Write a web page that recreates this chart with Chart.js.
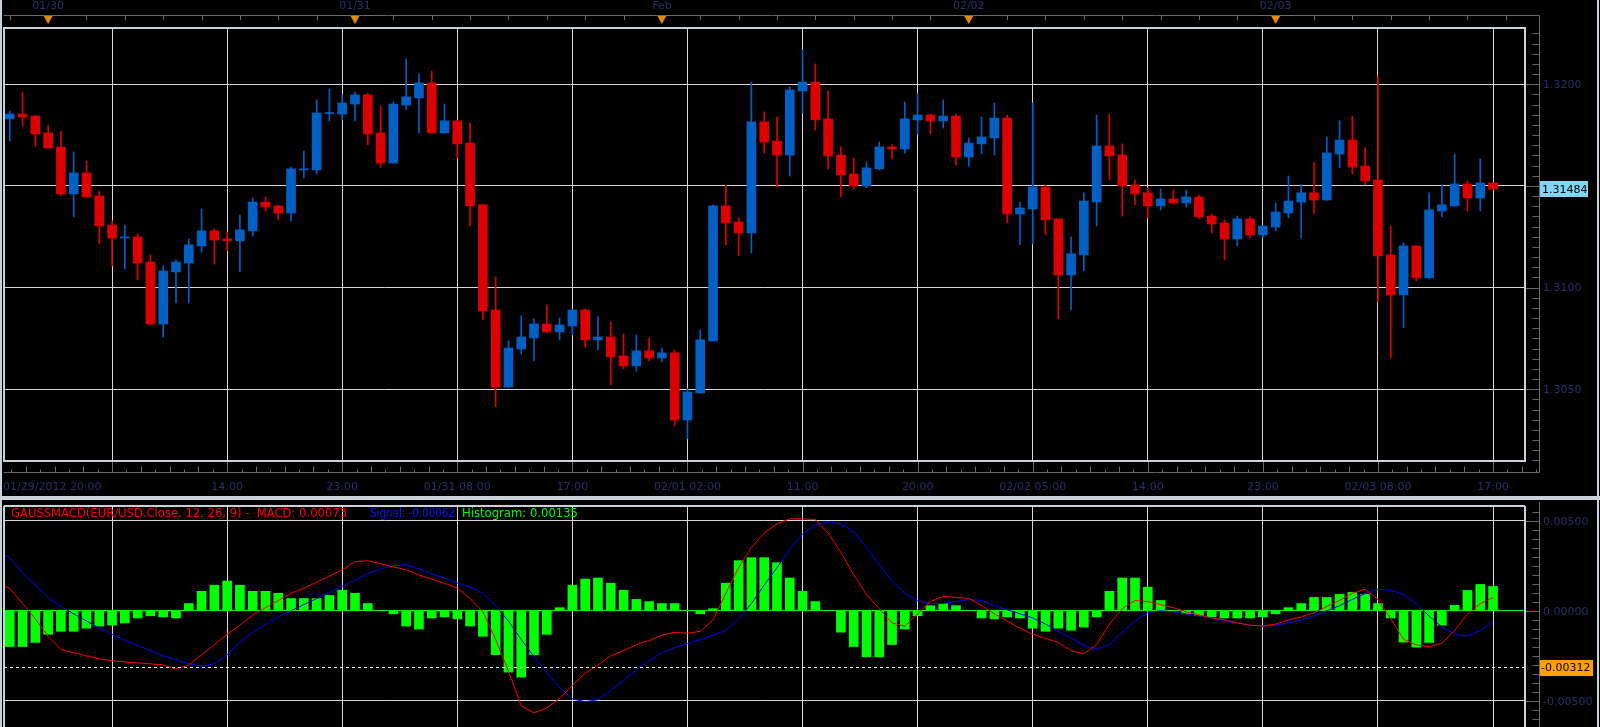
<!DOCTYPE html>
<html><head><meta charset="utf-8">
<script src="https://cdn.jsdelivr.net/npm/chart.js@4.4.1/dist/chart.umd.min.js"></script>
<style>
html,body{margin:0;padding:0;background:#000;overflow:hidden;width:1600px;height:727px;position:relative}
#w1{position:absolute;left:0;top:0;width:1600px;height:495px}
#w2{position:absolute;left:0;top:495px;width:1600px;height:250px}
</style></head><body>
<div id="w1"><canvas id="c1"></canvas></div>
<div id="w2"><canvas id="c2"></canvas></div>
<script>
// hours counted from 01/29/2012 20:00; candle i sits at hour i+1
const opens = [1.31830,1.31854,1.31844,1.31761,1.31692,1.31461,1.31564,1.31451,1.31308,1.31244,
1.31249,1.31126,1.30821,1.31077,1.31121,1.31205,1.31279,1.31239,1.31230,1.31279,
1.31421,1.31402,1.31367,1.31579,1.31579,1.31856,1.31854,1.31903,1.31948,1.31761,
1.31613,1.31898,1.31933,1.32007,1.31761,1.31820,1.31711,1.31407,1.30890,1.30511,
1.30698,1.30752,1.30821,1.30782,1.30811,1.30890,1.30743,1.30757,1.30664,1.30615,
1.30689,1.30654,1.30679,1.30349,1.30482,1.30738,1.31402,1.31323,1.31269,1.31815,
1.31721,1.31652,1.31967,1.32011,1.31830,1.31652,1.31559,1.31500,1.31584,1.31692,
1.31682,1.31825,1.31849,1.31820,1.31844,1.31643,1.31707,1.31736,1.31834,1.31362,
1.31387,1.31495,1.31338,1.31062,1.31161,1.31421,1.31697,1.31652,1.31505,1.31466,
1.31402,1.31436,1.31416,1.31446,1.31352,1.31318,1.31239,1.31338,1.31259,1.31298,
1.31367,1.31421,1.31466,1.31431,1.31657,1.31726,1.31598,1.31530,1.31161,1.30964,
1.31205,1.31048,1.31377,1.31402,1.31510,1.31441,1.31515];
const highs = [1.31869,1.31962,1.31846,1.31800,1.31770,1.31667,1.31623,1.31475,1.31328,1.31308,
1.31264,1.31161,1.31107,1.31136,1.31239,1.31387,1.31289,1.31274,1.31357,1.31441,
1.31446,1.31404,1.31593,1.31672,1.31923,1.31977,1.31948,1.31962,1.31957,1.31893,
1.31913,1.32125,1.32051,1.32066,1.31903,1.31822,1.31810,1.31409,1.31052,1.30738,
1.30861,1.30846,1.30915,1.30851,1.30892,1.30895,1.30856,1.30831,1.30772,1.30767,
1.30752,1.30703,1.30693,1.30502,1.30792,1.31407,1.31503,1.31343,1.32011,1.31864,
1.31839,1.31987,1.32169,1.32100,1.31967,1.31692,1.31638,1.31618,1.31716,1.31702,
1.31913,1.31952,1.31854,1.31923,1.31854,1.31736,1.31839,1.31908,1.31849,1.31421,
1.31908,1.31505,1.31340,1.31249,1.31466,1.31849,1.31854,1.31707,1.31530,1.31490,
1.31485,1.31480,1.31480,1.31456,1.31362,1.31333,1.31352,1.31348,1.31305,1.31416,
1.31549,1.31505,1.31618,1.31741,1.31820,1.31844,1.31687,1.32041,1.31303,1.31220,
1.31207,1.31466,1.31505,1.31657,1.31525,1.31633,1.31515];
const lows = [1.31721,1.31795,1.31697,1.31685,1.31451,1.31348,1.31444,1.31215,1.31107,1.31092,
1.31038,1.30816,1.30757,1.30925,1.30925,1.31175,1.31116,1.31180,1.31077,1.31254,
1.31377,1.31333,1.31328,1.31539,1.31559,1.31820,1.31825,1.31820,1.31702,1.31593,
1.31611,1.31874,1.31761,1.31759,1.31759,1.31638,1.31303,1.30841,1.30413,1.30506,
1.30674,1.30639,1.30777,1.30743,1.30767,1.30708,1.30693,1.30521,1.30600,1.30590,
1.30639,1.30634,1.30320,1.30256,1.30480,1.30736,1.31210,1.31156,1.31170,1.31662,
1.31495,1.31549,1.31859,1.31775,1.31584,1.31446,1.31485,1.31490,1.31579,1.31633,
1.31662,1.31756,1.31756,1.31785,1.31603,1.31598,1.31657,1.31652,1.31318,1.31210,
1.31215,1.31259,1.30846,1.30890,1.31082,1.31303,1.31530,1.31352,1.31407,1.31343,
1.31382,1.31411,1.31397,1.31338,1.31269,1.31136,1.31205,1.31244,1.31244,1.31279,
1.31343,1.31244,1.31362,1.31429,1.31589,1.31559,1.31505,1.30930,1.30654,1.30802,
1.31033,1.31043,1.31348,1.31400,1.31377,1.31377,1.31484];
const closes = [1.31854,1.31839,1.31756,1.31687,1.31461,1.31564,1.31446,1.31303,1.31244,1.31249,
1.31121,1.30821,1.31082,1.31126,1.31210,1.31279,1.31234,1.31230,1.31284,1.31421,
1.31397,1.31367,1.31584,1.31584,1.31859,1.31859,1.31908,1.31948,1.31756,1.31613,
1.31903,1.31938,1.32007,1.31761,1.31820,1.31707,1.31402,1.30885,1.30511,1.30703,
1.30757,1.30821,1.30782,1.30816,1.30890,1.30743,1.30757,1.30659,1.30615,1.30689,
1.30654,1.30679,1.30349,1.30487,1.30743,1.31402,1.31318,1.31269,1.31815,1.31716,
1.31652,1.31972,1.32011,1.31825,1.31648,1.31554,1.31500,1.31589,1.31692,1.31682,
1.31830,1.31849,1.31820,1.31844,1.31643,1.31711,1.31741,1.31834,1.31362,1.31392,
1.31495,1.31333,1.31062,1.31166,1.31426,1.31697,1.31648,1.31500,1.31461,1.31402,
1.31436,1.31416,1.31446,1.31348,1.31313,1.31239,1.31338,1.31259,1.31303,1.31372,
1.31426,1.31466,1.31431,1.31662,1.31726,1.31593,1.31525,1.31156,1.30964,1.31205,
1.31048,1.31382,1.31407,1.31510,1.31441,1.31515,1.31484];
const histogram = [-0.00199,-0.00199,-0.00176,-0.00131,-0.00114,-0.00114,-0.00097,-0.00085,-0.00080,-0.00068,
-0.00040,-0.00028,-0.00034,-0.00040,0.00040,0.00108,0.00142,0.00165,0.00142,0.00108,
0.00108,0.00097,0.00068,0.00068,0.00068,0.00085,0.00114,0.00097,0.00040,0.00000,
-0.00017,-0.00085,-0.00102,-0.00040,-0.00034,-0.00045,-0.00085,-0.00142,-0.00244,-0.00341,
-0.00369,-0.00244,-0.00131,0.00017,0.00142,0.00176,0.00182,0.00153,0.00114,0.00063,
0.00051,0.00040,0.00040,0.00000,-0.00017,0.00011,0.00153,0.00278,0.00295,0.00295,
0.00267,0.00182,0.00108,0.00051,0.00000,-0.00119,-0.00199,-0.00256,-0.00256,-0.00188,
-0.00102,-0.00028,0.00028,0.00040,0.00028,0.00000,-0.00040,-0.00045,-0.00034,-0.00040,
-0.00097,-0.00114,-0.00097,-0.00108,-0.00091,-0.00034,0.00108,0.00182,0.00182,0.00131,
0.00057,0.00000,-0.00017,-0.00028,-0.00034,-0.00040,-0.00040,-0.00040,-0.00034,-0.00017,
0.00017,0.00040,0.00074,0.00074,0.00091,0.00102,0.00091,0.00040,-0.00040,-0.00174,
-0.00202,-0.00176,-0.00080,0.00030,0.00113,0.00146,0.00135];
// MACD and signal lines: hour 0 .. 117
const macdLine = [0.00153,0.00125,0.00040,-0.00045,-0.00142,-0.00216,-0.00233,-0.00250,-0.00267,-0.00278,-0.00284,
-0.00290,-0.00295,-0.00301,-0.00324,-0.00301,-0.00244,-0.00188,-0.00131,-0.00080,-0.00023,
0.00017,0.00057,0.00097,0.00125,0.00159,0.00193,0.00227,0.00273,0.00278,0.00261,
0.00244,0.00227,0.00199,0.00176,0.00153,0.00125,0.00068,-0.00006,-0.00159,-0.00335,
-0.00528,-0.00568,-0.00540,-0.00489,-0.00415,-0.00347,-0.00301,-0.00250,-0.00222,-0.00188,
-0.00165,-0.00136,-0.00119,-0.00125,-0.00114,-0.00051,0.00097,0.00239,0.00352,0.00432,
0.00483,0.00511,0.00511,0.00506,0.00432,0.00324,0.00199,0.00091,0.00011,-0.00068,
-0.00085,-0.00017,0.00051,0.00080,0.00074,0.00068,0.00028,-0.00017,-0.00057,-0.00097,
-0.00131,-0.00153,-0.00176,-0.00222,-0.00239,-0.00188,-0.00074,0.00011,0.00057,0.00051,
0.00034,0.00017,-0.00006,-0.00023,-0.00040,-0.00051,-0.00068,-0.00080,-0.00085,-0.00074,
-0.00051,-0.00034,-0.00011,0.00023,0.00057,0.00097,0.00119,0.00063,-0.00045,-0.00159,
-0.00190,-0.00200,-0.00180,-0.00110,-0.00020,0.00040,0.00073];
const signalLine = [0.00330,0.00295,0.00210,0.00142,0.00074,0.00023,-0.00017,-0.00057,-0.00097,-0.00131,-0.00165,
-0.00193,-0.00222,-0.00250,-0.00273,-0.00295,-0.00307,-0.00295,-0.00244,-0.00176,-0.00119,
-0.00074,-0.00034,0.00000,0.00034,0.00068,0.00102,0.00136,0.00170,0.00205,0.00233,
0.00250,0.00256,0.00233,0.00205,0.00182,0.00153,0.00131,0.00097,0.00028,-0.00057,
-0.00159,-0.00256,-0.00347,-0.00426,-0.00489,-0.00506,-0.00494,-0.00443,-0.00386,-0.00330,
-0.00278,-0.00233,-0.00205,-0.00182,-0.00159,-0.00136,-0.00108,-0.00045,0.00040,0.00142,
0.00239,0.00341,0.00426,0.00477,0.00494,0.00483,0.00438,0.00352,0.00256,0.00165,
0.00097,0.00057,0.00040,0.00040,0.00051,0.00063,0.00057,0.00028,0.00006,-0.00017,
-0.00040,-0.00074,-0.00114,-0.00153,-0.00193,-0.00216,-0.00188,-0.00119,-0.00057,-0.00011,
0.00000,-0.00006,-0.00017,-0.00028,-0.00040,-0.00057,-0.00068,-0.00080,-0.00085,-0.00080,
-0.00068,-0.00051,-0.00028,0.00000,0.00028,0.00063,0.00097,0.00119,0.00114,0.00090,
0.00040,-0.00030,-0.00090,-0.00130,-0.00140,-0.00110,-0.00062];
const timeLabels = [[0,'01/29/2012 20:00'],[18,'14:00'],[27,'23:00'],[36,'01/31 08:00'],[45,'17:00'],
[54,'02/01 02:00'],[63,'11:00'],[72,'20:00'],[81,'02/02 05:00'],[90,'14:00'],[99,'23:00'],[108,'02/03 08:00'],[117,'17:00']];
const gridHours = [9,18,27,36,45,54,63,72,81,90,99,108,117];
const dateMarkers = [[4,'01/30'],[28,'01/31'],[52,'Feb'],[76,'02/02'],[100,'02/03']];
const priceTicks = [1.3050,1.3100,1.3150,1.3200];
const priceLabels = [1.3050,1.3100,1.3200];
const lastPrice = 1.31484;
const macdTicks = [0.005,0,-0.005];
const macdLevel = -0.00312;
const legendParts = [['GAUSSMACD(EUR/USD.Close, 12, 26, 9) -  MACD: 0.00073','#ff0000',11,336],['Signal: -0.00062','#1010ff',370,85],['Histogram: 0.00135','#00ff00',462,116]];

const X_MIN=0.55, X_MAX=119.5, Y_MIN=1.30147, Y_MAX=1.32277, M_MIN=-0.00746, M_MAX=0.00582;
const RED='#dc0000', BLUE='#0060c4', GRID='#d8d8d8', AXIS='#6a6a6a', FRAME='#c8d2da', TXT='#2e2e6c';
const FONT='11px "DejaVu Sans"';
const candleHours = opens.map((_,i)=>i+1);
const colors = closes.map((c,i)=>c>=opens[i]?BLUE:RED);

function ln(ctx,x1,y1,x2,y2){ctx.beginPath();ctx.moveTo(x1,y1);ctx.lineTo(x2,y2);ctx.stroke();}

const chrome1 = {id:'chrome1', afterDraw(chart){
  const {ctx, chartArea:a, scales:{x,y}} = chart;
  ctx.save();
  const AX=1539.5;
  ctx.strokeStyle=AXIS; ctx.lineWidth=1;
  ln(ctx,3.5,15.5,AX,15.5); ln(ctx,3.5,472.5,AX,472.5); ln(ctx,AX,15.5,AX,472.5);
  for(let h=1;h<=X_MAX;h+=3){const px=Math.round(x.getPixelForValue(h))+0.5; if(px<a.left||px>AX)continue; ln(ctx,px,15.5,px,20);}
  for(let k=-8;k<=8*13+8;k++){const h=9+k*9/8; const px=Math.round(x.getPixelForValue(h))+0.5; if(px<a.left||px>AX)continue;
    const len = (k%8===0)?11:((k%2===0)?6:3); ln(ctx,px,472.5,px,472.5-len);}
  for(let v=Math.ceil(Y_MIN/0.0005)*0.0005; v<=Y_MAX; v+=0.0005){const py=Math.round(y.getPixelForValue(v))+0.5;
    const major = Math.abs(v/0.005-Math.round(v/0.005))<1e-6; ln(ctx,major?a.right:AX-7,py,AX,py);}
  ctx.strokeStyle=FRAME; ctx.lineWidth=2;
  ctx.strokeRect(a.left,a.top,a.right-a.left,a.bottom-a.top);
  ctx.font=FONT; ctx.fillStyle=TXT; ctx.textBaseline='middle';
  timeLabels.forEach(([h,t])=>{ if(h===0){ctx.textAlign='left'; ctx.fillText(t,3,487);} else {ctx.textAlign='center'; ctx.fillText(t,x.getPixelForValue(h),487);} });
  ctx.textAlign='center';
  dateMarkers.forEach(([h,t])=>{const px=x.getPixelForValue(h); ctx.fillStyle=TXT; ctx.fillText(t,px,6);
    ctx.fillStyle='#e08a10'; ctx.beginPath(); ctx.moveTo(px-4.5,16); ctx.lineTo(px+4.5,16); ctx.lineTo(px,24); ctx.closePath(); ctx.fill();});
  ctx.textAlign='left'; ctx.fillStyle=TXT;
  priceLabels.forEach(v=>ctx.fillText(v.toFixed(4),1543,y.getPixelForValue(v)+1));
  const ly=y.getPixelForValue(lastPrice);
  ctx.fillStyle='#7fd6f6'; ctx.fillRect(1540,Math.round(ly)-8,48,16);
  ctx.fillStyle='#000'; ctx.fillText(lastPrice.toFixed(5),1542,ly+1);
  ctx.strokeStyle=FRAME; ctx.lineWidth=2; ln(ctx,1,0,1,495); ln(ctx,1598,0,1598,495);
  ctx.restore();
}};

const chrome2 = {id:'chrome2', afterDraw(chart){
  const {ctx, chartArea:a, scales:{x,y}} = chart;
  ctx.save();
  const AX=1539.5;
  ctx.fillStyle=FRAME; ctx.fillRect(0,1,1600,4);
  ctx.strokeStyle=AXIS; ctx.lineWidth=1; ln(ctx,AX,a.top-4,AX,250);
  for(let v=Math.ceil(M_MIN/0.0005)*0.0005; v<=M_MAX; v+=0.0005){const py=Math.round(y.getPixelForValue(v))+0.5;
    const major = Math.abs(v/0.005-Math.round(v/0.005))<1e-6; ln(ctx,major?a.right:AX-7,py,AX,py);}
  const dy=Math.round(y.getPixelForValue(macdLevel))+0.5;
  ctx.strokeStyle='#ffffff'; ctx.setLineDash([3,3]); ln(ctx,a.left,dy,a.right,dy); ctx.setLineDash([]);
  ctx.strokeStyle=FRAME; ctx.lineWidth=2;
  ln(ctx,a.left,a.top,a.right,a.top); ln(ctx,a.left,a.top,a.left,250); ln(ctx,a.right,a.top,a.right,250);
  ln(ctx,1,0,1,250); ln(ctx,1598,0,1598,250);
  ctx.font=FONT; ctx.textBaseline='middle'; ctx.textAlign='left';
  ctx.fillStyle=TXT;
  macdTicks.forEach(v=>ctx.fillText(v.toFixed(5),1543,y.getPixelForValue(v)+1));
  ctx.fillStyle='#ffa000'; ctx.fillRect(1540,Math.round(dy)-8,53,16);
  ctx.fillStyle='#000'; ctx.fillText(macdLevel.toFixed(5),1541,dy+1);
  ctx.font='11.7px "DejaVu Sans"';
  legendParts.forEach(([t,c,lx,w])=>{ctx.fillStyle=c; ctx.fillText(t,lx,19,w);});
  ctx.restore();
}};

const xCommon = {type:'linear',min:X_MIN,max:X_MAX,offset:false,ticks:{display:false},
  grid:{color:GRID,drawTicks:false,offset:false,lineWidth:1},border:{display:false},
  afterBuildTicks:s=>{s.ticks=gridHours.map(v=>({value:v}));}};

new Chart(document.getElementById('c1'),{
  type:'bar',
  data:{datasets:[
    {data:candleHours.map((h,i)=>({x:h,y:[lows[i],highs[i]]})),backgroundColor:colors,barThickness:1,grouped:false,order:2},
    {data:candleHours.map((h,i)=>({x:h,y:[opens[i],closes[i]]})),backgroundColor:colors,barThickness:9,grouped:false,minBarLength:1,order:1}
  ]},
  options:{animation:false,responsive:true,maintainAspectRatio:false,
    layout:{padding:{left:4,top:28,right:0,bottom:0}},
    plugins:{legend:{display:false},tooltip:{enabled:false}},
    scales:{
      x:Object.assign({},xCommon,{position:'bottom',afterFit:s=>{s.height=34;}}),
      y:{type:'linear',position:'right',min:Y_MIN,max:Y_MAX,beginAtZero:false,ticks:{display:false},
        grid:{color:GRID,drawTicks:false},border:{display:false},
        afterBuildTicks:s=>{s.ticks=priceTicks.map(v=>({value:v}));},afterFit:s=>{s.width=75;}}
    }},
  plugins:[chrome1]
});

new Chart(document.getElementById('c2'),{
  type:'bar',
  data:{datasets:[
    {type:'line',data:macdLine.map((v,h)=>({x:h,y:v})),borderColor:'#ff0000',borderWidth:1,pointRadius:0,tension:0,order:1},
    {type:'line',data:signalLine.map((v,h)=>({x:h,y:v})),borderColor:'#0000ff',borderWidth:1,pointRadius:0,tension:0,order:2},
    {type:'bar',data:candleHours.map((h,i)=>({x:h,y:histogram[i]})),backgroundColor:'#00ff00',barThickness:9,grouped:false,order:3}
  ]},
  options:{animation:false,responsive:true,maintainAspectRatio:false,
    layout:{padding:{left:4,top:11,right:0,bottom:0}},
    plugins:{legend:{display:false},tooltip:{enabled:false}},
    scales:{
      x:Object.assign({},xCommon,{position:'bottom',afterFit:s=>{s.height=0;}}),
      y:{type:'linear',position:'right',min:M_MIN,max:M_MAX,beginAtZero:false,ticks:{display:false},
        grid:{color:c=>(c.tick&&c.tick.value===0)?'#00ff00':GRID,drawTicks:false},border:{display:false},
        afterBuildTicks:s=>{s.ticks=macdTicks.map(v=>({value:v}));},afterFit:s=>{s.width=75;}}
    }},
  plugins:[chrome2]
});
</script>
</body></html>
